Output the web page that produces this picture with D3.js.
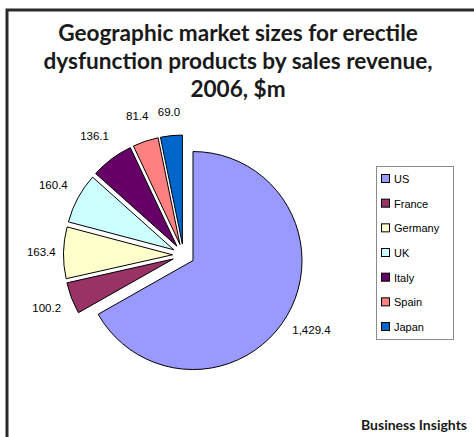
<!DOCTYPE html>
<html>
<head>
<meta charset="utf-8">
<script src="https://cdn.jsdelivr.net/npm/d3@7"></script>
<style>
  html, body { margin: 0; padding: 0; background: #fff; }
  svg { display: block; }
</style>
</head>
<body>
<svg id="chart" width="474" height="437"></svg>
<script>
// Market sizes by country, 2006, $m
const countries = ["US", "France", "Germany", "UK", "Italy", "Spain", "Japan"];
const revenue = [1429.4, 100.2, 163.4, 160.4, 136.1, 81.4, 69.0];
const sliceColors = ["#9999FF", "#993366", "#FFFFCC", "#CCFFFF", "#660066", "#FF8080", "#0066CC"];
const titleLines = [
  "Geographic market sizes for erectile",
  "dysfunction products by sales revenue,",
  "2006, $m"
];
const sourceText = "Business Insights";

const svg = d3.select("#chart");

// Frame: heavy rule along top and left edges
svg.append("path")
  .attr("d", "M7,437 L7,10 L474,10")
  .attr("fill", "none")
  .attr("stroke", "#2a2a2a")
  .attr("stroke-width", 3);

// Title
const title = svg.append("text")
  .attr("text-anchor", "middle")
  .attr("font-family", "Lato, 'Open Sans', sans-serif")
  .attr("font-weight", "bold")
  .attr("font-size", 22.6)
  .attr("fill", "#1a1a1a");
titleLines.forEach((t, i) => {
  title.append("tspan").attr("x", 238).attr("y", 41 + i * 28).text(t);
});

// Pie, every slice pulled out along its own bisector
const data = countries.map((c, i) => ({ name: c, value: revenue[i], color: sliceColors[i] }));
const pie = d3.pie().value(d => d.value).sort(null);
const arcs = pie(data);
const cx = 183.5, cy = 255, R = 109, explode = 11;

const arc = d3.arc().innerRadius(0).outerRadius(R);
const g = svg.append("g").attr("transform", `translate(${cx},${cy})`);
const mid = d => (d.startAngle + d.endAngle) / 2;

g.selectAll("path.slice")
  .data(arcs)
  .join("path")
  .attr("class", "slice")
  .attr("d", arc)
  .attr("transform", d => `translate(${explode * Math.sin(mid(d))},${-explode * Math.cos(mid(d))})`)
  .attr("fill", d => d.data.color)
  .attr("stroke", "#000")
  .attr("stroke-width", 1)
  .attr("stroke-linejoin", "miter");

// Value labels sit outside the rim; diagonal ones need a little more room
const labelRadius = d => 142 + 7 * Math.abs(Math.sin(2 * mid(d)));
const fmt = d3.format(",.1f");
g.selectAll("text.val")
  .data(arcs)
  .join("text")
  .attr("class", "val")
  .attr("x", d => labelRadius(d) * Math.sin(mid(d)))
  .attr("y", d => -labelRadius(d) * Math.cos(mid(d)))
  .attr("dy", "0.35em")
  .attr("text-anchor", "middle")
  .attr("font-family", "'Liberation Sans', Arial, sans-serif")
  .attr("font-size", 11.5)
  .attr("fill", "#000")
  .text(d => fmt(d.data.value));

// Legend
const lg = svg.append("g");
lg.append("rect")
  .attr("x", 376.5).attr("y", 166.5)
  .attr("width", 77).attr("height", 173)
  .attr("fill", "#fff")
  .attr("stroke", "#8c8c8c")
  .attr("stroke-width", 1);

const items = lg.selectAll("g.item")
  .data(data)
  .join("g")
  .attr("class", "item")
  .attr("transform", (d, i) => `translate(381,${178 + i * 24.67})`);
items.append("rect")
  .attr("x", 0.5).attr("y", -3.5)
  .attr("width", 8).attr("height", 8)
  .attr("fill", d => d.color)
  .attr("stroke", "#000")
  .attr("stroke-width", 1);
items.append("text")
  .attr("x", 13).attr("y", 1)
  .attr("dy", "0.35em")
  .attr("font-family", "'Liberation Sans', Arial, sans-serif")
  .attr("font-size", 11)
  .attr("fill", "#000")
  .text(d => d.name);

// Source
svg.append("text")
  .attr("x", 467).attr("y", 430)
  .attr("text-anchor", "end")
  .attr("font-family", "Lato, 'Open Sans', sans-serif")
  .attr("font-weight", "bold")
  .attr("font-size", 14)
  .attr("fill", "#1a1a1a")
  .text(sourceText);
</script>
</body>
</html>
